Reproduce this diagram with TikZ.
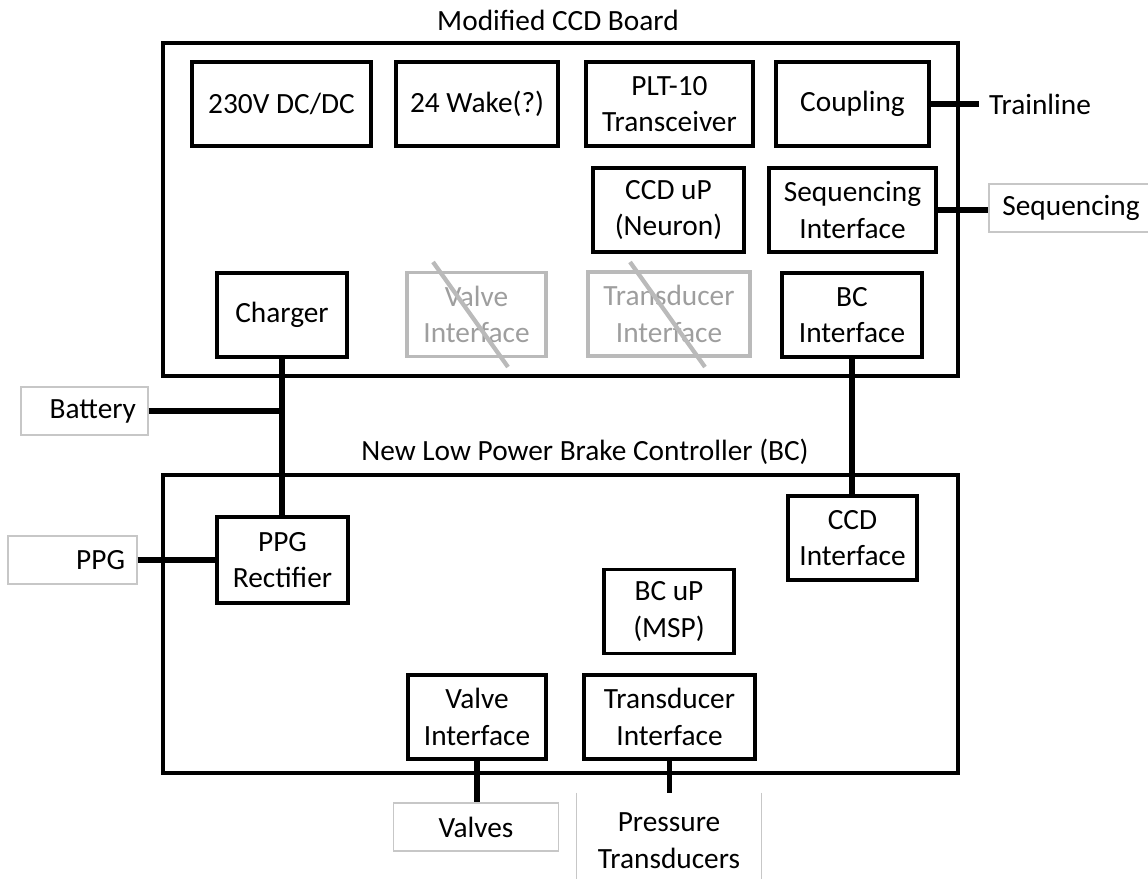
\documentclass[tikz,border=0pt]{standalone}
\usepackage{fontspec}
\setmainfont{Carlito}
\begin{document}
\begin{tikzpicture}[x=0.75pt, y=-0.75pt,
    font=\fontsize{22pt}{27.5pt}\selectfont,
    board/.style={draw, line width=2.5pt, inner sep=0pt, minimum width=596.25pt},
    blk/.style={draw, line width=2.4pt, align=center, inner sep=0pt, minimum height=63pt},
    oldblk/.style={blk, draw=black!27, text=black!38},
    ext/.style={draw=black!22, line width=0.8pt, inner sep=0pt, minimum height=36pt},
    wire/.style={line width=3.8pt},
    strike/.style={draw=black!27, line width=3.2pt}]
    \useasboundingbox (0,0) rectangle (1148,878);

    % Boards
    \node[board, minimum height=249.75pt] (ccdboard) at (560.5,209.5) {};
    \node[board, minimum height=223.5pt] (bcboard) at (560.5,624) {};
    \node (ccdtitle) at (558,20) {Modified CCD Board};
    \node (bctitle) at (585,452) {New Low Power Brake Controller (BC)};

    % CCD board blocks
    \node[blk, minimum width=134.25pt] (dcdc) at (281.5,104) {230V DC/DC};
    \node[blk, minimum width=121.5pt] (wake) at (477,104) {24 Wake(?)};
    \node[blk, minimum width=125.25pt] (plt) at (669.5,104) {PLT-10\\Transceiver};
    \node[blk, minimum width=114.75pt] (coup) at (852.5,104) {Coupling};
    \node[blk, minimum width=113.25pt] (ccdup) at (668.5,210) {CCD uP\\(Neuron)};
    \node[blk, minimum width=125.25pt] (seqif) at (852.5,210) {Sequencing\\Interface};
    \node[blk, minimum width=97.5pt] (charger) at (282,315) {Charger};
    \node[oldblk, minimum width=104.25pt] (valveold) at (476.5,314.5) {Valve\\Interface};
    \node[oldblk, minimum width=121.5pt] (transold) at (669,314) {Transducer\\Interface};
    \node[blk, minimum width=105pt] (bcif) at (852,315) {BC\\Interface};

    % Removed blocks
    \draw[strike] (433,262) -- (508,367);
    \draw[strike] (630,262) -- (705,367);

    % BC board blocks
    \node[blk, minimum width=98.25pt, minimum height=64.5pt] (ppgrect) at (282.5,560) {PPG\\Rectifier};
    \node[blk, minimum width=96.75pt] (ccdif) at (852.5,538) {CCD\\Interface};
    \node[blk, minimum width=97.5pt] (bcup) at (669,611.5) {BC uP\\(MSP)};
    \node[blk, minimum width=103.5pt] (valveif) at (477,717) {Valve\\Interface};
    \node[blk, minimum width=128.25pt] (transif) at (669.5,717) {Transducer\\Interface};

    % Outside connections
    \node[inner xsep=7.5pt] (trainline) at (1040,104) {Trainline};
    \node[ext, minimum width=123pt] (seq) at (1071,208) {Sequencing};
    \node[ext, text width=77.25pt, inner xsep=9pt, align=right] (battery) at (84.5,411) {Battery};
    \node[ext, text width=78.75pt, inner xsep=9pt, align=right] (ppg) at (72.5,560) {PPG};
    \node[ext, minimum width=123.75pt] (valves) at (476,827) {Valves};
    \node[align=center, inner sep=0pt, minimum width=138pt, minimum height=72pt] (ptrans) at (669,841) {Pressure\\Transducers};
    \draw[draw=black!22, line width=0.8pt] (ptrans.north west) -- (ptrans.south west);
    \draw[draw=black!22, line width=0.8pt] (ptrans.north east) -- (ptrans.south east);

    % Wires
    \draw[wire] (coup.east) -- (trainline.west);
    \draw[wire] (seqif.east) -- (seqif.east -| seq.west);
    \draw[wire] (charger.south) -- (charger.south |- ppgrect.north);
    \draw[wire] (battery.east) -- (battery.east -| charger.south);
    \draw[wire] (bcif.south) -- (bcif.south |- ccdif.north);
    \draw[wire] (ppg.east) -- (ppgrect.west);
    \draw[wire] (valveif.south) -- (valveif.south |- valves.north);
    \draw[wire] (transif.south) -- (transif.south |- ptrans.north);
\end{tikzpicture}
\end{document}
